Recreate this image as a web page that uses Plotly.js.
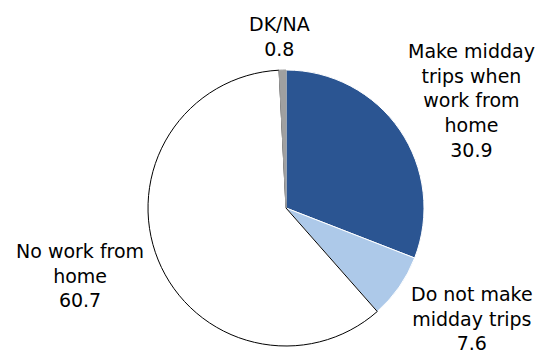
<!DOCTYPE html>
<html>
<head>
<meta charset="utf-8">
<script src="https://cdn.plot.ly/plotly-3.0.1.min.js"></script>
<style>html,body{margin:0;padding:0;background:#fff;}#chart{width:548px;height:353px;}</style>
</head>
<body>
<div id="chart"></div>
<script>
const labels = ["Make midday trips when work from home", "Do not make midday trips", "No work from home", "DK/NA"];
const labelLines = [["Make midday", "trips when", "work from", "home"], ["Do not make", "midday trips"], ["No work from", "home"], ["DK/NA"]];
const values = [30.9, 7.6, 60.7, 0.8];

const colors = ["#2B5592", "#ADC9E9", "#FFFFFF", "#A0A0A0"];
const lineColors = ["#FFFFFF", "#FFFFFF", "#000000", "#A0A0A0"];
// label centres in pixels (x, y from top)
const labelPos = [[472, 100], [472, 318], [80, 275], [279, 36]];

const W = 548, H = 353;
const cx = 286, cy = 208, r = 138;

const annotations = labels.map((l, i) => ({
  text: labelLines[i].concat([values[i].toFixed(1)]).join("<br>"),
  x: labelPos[i][0] / W,
  y: 1 - labelPos[i][1] / H,
  xref: "paper", yref: "paper",
  xanchor: "center", yanchor: "middle",
  showarrow: false,
  align: "center",
  font: {family: "DejaVu Sans, Verdana, sans-serif", size: 19, color: "#000"}
}));

const trace = {
  type: "pie",
  labels: labels,
  values: values,
  sort: false,
  direction: "clockwise",
  rotation: 0,
  textinfo: "none",
  hoverinfo: "none",
  marker: {colors: colors, line: {color: lineColors, width: 1}},
  domain: {x: [(cx - r) / W, (cx + r) / W], y: [1 - (cy + r) / H, 1 - (cy - r) / H]},
  showlegend: false
};

Plotly.newPlot("chart", [trace], {
  width: W, height: H,
  margin: {l: 0, r: 0, t: 0, b: 0},
  paper_bgcolor: "#fff",
  showlegend: false,
  annotations: annotations
}, {staticPlot: true});
</script>
</body>
</html>
